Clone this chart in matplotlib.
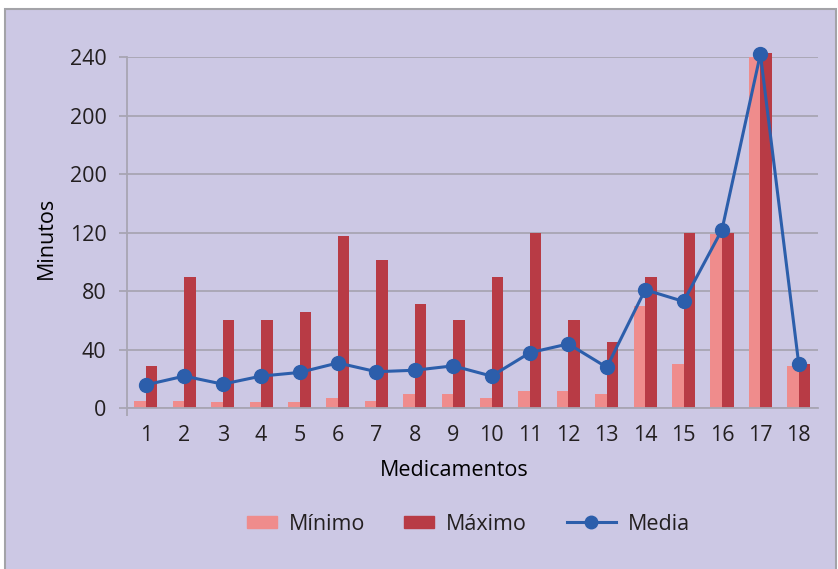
import numpy as np
import matplotlib.pyplot as plt
from matplotlib.patches import Rectangle
from matplotlib.lines import Line2D
from matplotlib.patches import Patch

medicamentos = [str(i) for i in range(1, 19)]
minimo = [5, 5, 4, 4.5, 4.5, 7, 5, 10, 10, 7, 12, 12, 10, 70, 30, 119, 240, 29]
maximo = [29, 90, 60, 60, 66, 118, 101, 71, 60, 90, 120, 60, 45, 90, 120, 120, 243, 30]
media = [16, 22, 16.5, 22, 24.5, 31, 25, 26, 29, 22, 38, 44, 28, 81, 73, 122, 242, 30]

yticks = [0, 40, 80, 120, 160, 200, 240]
ytick_labels = ["0", "40", "80", "120", "200", "200", "240"]

bg = "#CCC8E4"
c_min = "#EF8C8C"
c_max = "#B83B45"
c_media = "#2C5EAB"
c_grid = "#A8A5B3"
c_text = "#231F20"

W, H = 838, 569
plt.rcParams['font.family'] = ['Open Sans', 'DejaVu Sans']
plt.rcParams['font.size'] = 15.5
plt.rcParams['text.color'] = c_text
plt.rcParams['xtick.color'] = c_text
plt.rcParams['ytick.color'] = c_text

fig = plt.figure(figsize=(W / 100, H / 100), dpi=100)
fig.patch.set_facecolor("white")
fig.patches.append(Rectangle((4.5 / W, -0.05), (835.5 - 4.5) / W, (H - 8.5) / H + 0.05,
                             transform=fig.transFigure, facecolor=bg,
                             edgecolor="#A3A3A8", linewidth=1.5, zorder=-1))

ax = fig.add_axes([126.7 / W, 1 - 408.3 / H, (818 - 126.7) / W, (408.3 - 57) / H])
ax.set_zorder(1)
ax.patch.set_alpha(0)

x = np.arange(1, len(medicamentos) + 1)
w = 0.3
ax.bar(x - w / 2, minimo, w, color=c_min, label="Mínimo", clip_on=False, zorder=2)
ax.bar(x + w / 2, maximo, w, color=c_max, label="Máximo", clip_on=False, zorder=2)
ax.plot(x, media, color=c_media, lw=2.2, marker="o", markersize=10,
        label="Media", clip_on=False, zorder=3)

ax.set_xlim(0.5, len(medicamentos) + 0.5)
ax.set_ylim(0, 240)
ax.set_yticks(yticks)
ax.set_yticklabels(ytick_labels)
ax.set_xticks(x)
ax.set_xticklabels(medicamentos)
ax.set_xticks([0.5], minor=True)

ax.yaxis.grid(True, color=c_grid, lw=1.3, zorder=1)
ax.set_axisbelow(True)
for s in ["top", "right"]:
    ax.spines[s].set_visible(False)
for s in ["left", "bottom"]:
    ax.spines[s].set_color(c_grid)
    ax.spines[s].set_linewidth(1.3)

ax.tick_params(axis="y", direction="out", length=6, width=1.3, color=c_grid, pad=8.5)
ax.tick_params(axis="x", which="major", length=0, pad=12)
ax.tick_params(axis="x", which="minor", direction="out", length=6, width=1.3, color=c_grid)

ax.set_xlabel("Medicamentos")
ax.xaxis.set_label_coords((454 - 126.7) / (818 - 126.7), (408.3 - 470) / (408.3 - 57))
ax.set_ylabel("Minutos")
ax.yaxis.set_label_coords((46 - 126.7) / (818 - 126.7), (408.3 - 237.5) / (408.3 - 57))
ax.xaxis.label.set_va("center")
ax.yaxis.label.set_va("center")

# legend split in two so the line handle can be longer than the patches
leg1 = ax.legend(handles=[Patch(color=c_min, label="Mínimo"), Patch(color=c_max, label="Máximo")],
                 loc="center left", bbox_to_anchor=(246.7 / W, 1 - 524 / H),
                 bbox_transform=fig.transFigure, ncol=2, frameon=False,
                 handlelength=1.4, handleheight=0.5, handletextpad=0.55,
                 columnspacing=1.8, borderpad=0, borderaxespad=0)
ax.add_artist(leg1)
ax.legend(handles=[Line2D([], [], color=c_media, lw=2.2, marker="o", markersize=9, label="Media")],
          loc="center left", bbox_to_anchor=(566.7 / W, 1 - 524 / H),
          bbox_transform=fig.transFigure, frameon=False,
          handlelength=2.3, handletextpad=0.55, borderpad=0, borderaxespad=0)

fig.savefig("out.png", dpi=100)
